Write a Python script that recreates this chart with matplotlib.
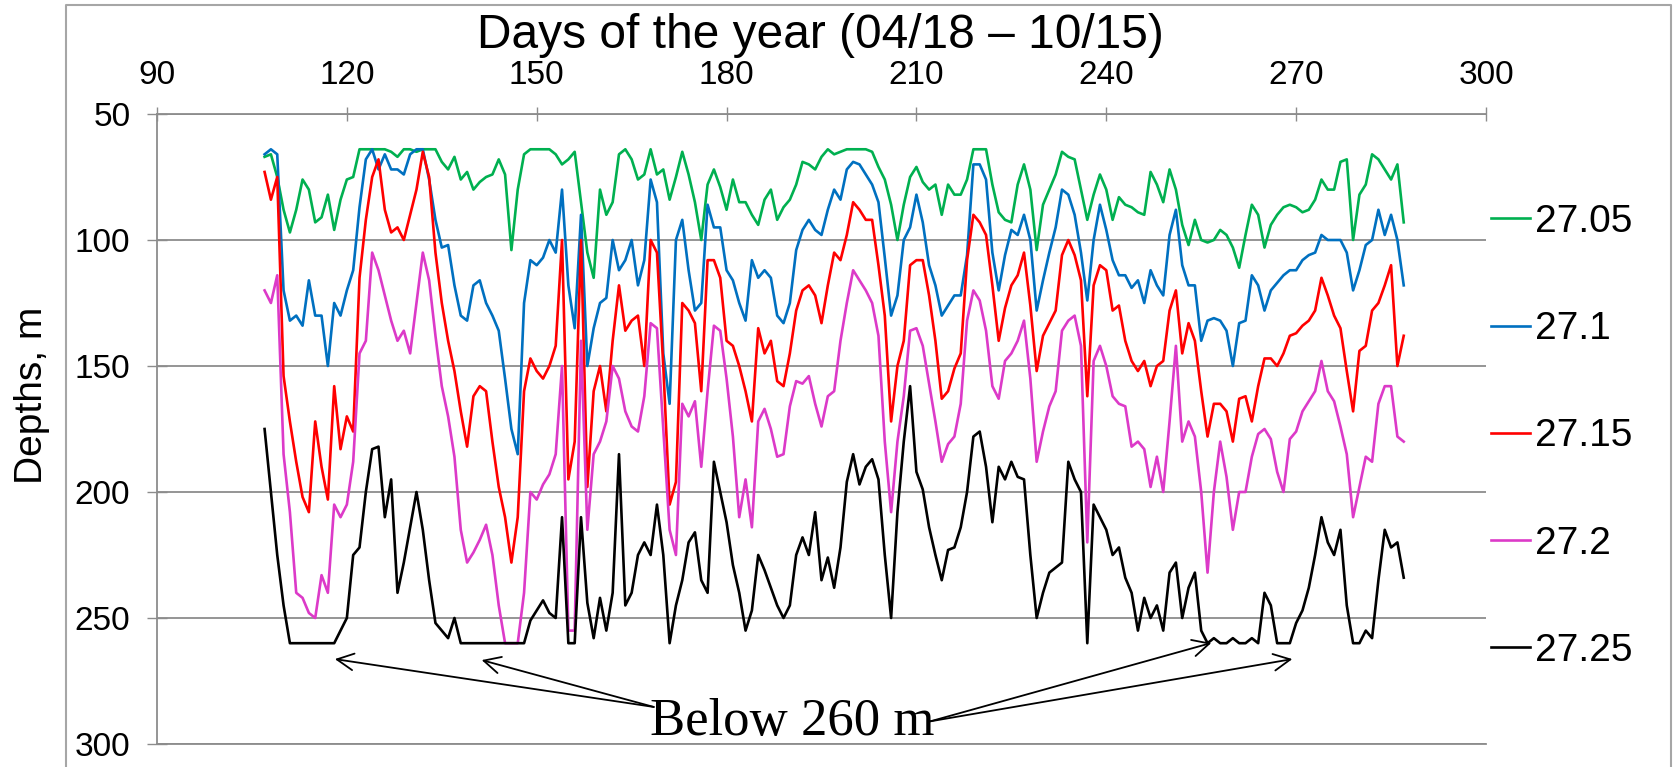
import numpy as np
import matplotlib
matplotlib.use('Agg')
import matplotlib.pyplot as plt
from matplotlib.lines import Line2D

plt.rcParams['font.family'] = ['Liberation Sans', 'DejaVu Sans']

# day of year, 04/18 - 10/15
days = np.arange(107, 288)

# depth (m) of each isopycnal
d2705 = [67, 66, 75, 88, 97, 88, 76, 80, 93, 91,
         82, 96, 84, 76, 75, 64, 64, 64, 64, 64,
         65, 67, 64, 64, 65, 64, 64, 64, 69, 72,
         67, 76, 73, 80, 77, 75, 74, 68, 74, 104,
         80, 66, 64, 64, 64, 64, 66, 70, 68, 65,
         85, 105, 115, 80, 90, 85, 66, 64, 68, 76,
         74, 64, 74, 72, 84, 75, 65, 74, 85, 100,
         78, 72, 79, 88, 76, 85, 85, 90, 94, 84,
         80, 92, 87, 84, 78, 69, 70, 72, 67, 64,
         66, 65, 64, 64, 64, 64, 65, 71, 76, 86,
         100, 86, 75, 71, 77, 80, 78, 90, 78, 82,
         82, 76, 64, 64, 64, 78, 89, 92, 93, 78,
         70, 80, 104, 86, 80, 74, 65, 67, 68, 80,
         92, 82, 74, 80, 92, 83, 86, 87, 89, 90,
         73, 78, 85, 72, 80, 94, 102, 92, 100, 101,
         100, 96, 98, 103, 111, 98, 86, 90, 103, 94,
         90, 87, 86, 87, 89, 88, 84, 76, 80, 80,
         69, 68, 100, 82, 78, 66, 68, 72, 76, 70,
         93]

d271 = [66, 64, 66, 120, 132, 130, 134, 116, 130, 130,
        150, 125, 130, 120, 112, 87, 68, 64, 72, 66,
        72, 72, 74, 66, 64, 64, 76, 92, 103, 102,
        118, 130, 132, 118, 116, 125, 130, 136, 155, 175,
        185, 125, 108, 110, 107, 100, 105, 80, 118, 135,
        90, 150, 135, 125, 123, 100, 112, 108, 100, 118,
        108, 76, 85, 145, 165, 100, 92, 112, 128, 125,
        86, 95, 95, 112, 116, 125, 132, 108, 115, 112,
        115, 130, 133, 125, 104, 96, 92, 96, 98, 88,
        80, 84, 72, 69, 70, 74, 78, 85, 107, 130,
        122, 100, 95, 82, 93, 110, 118, 130, 126, 122,
        122, 106, 70, 70, 76, 105, 120, 106, 96, 98,
        90, 100, 128, 116, 105, 95, 80, 82, 90, 105,
        124, 100, 86, 96, 108, 114, 114, 119, 116, 125,
        112, 118, 122, 98, 88, 110, 118, 118, 140, 132,
        131, 132, 136, 150, 133, 132, 114, 118, 128, 120,
        117, 114, 112, 112, 108, 106, 105, 98, 100, 100,
        100, 105, 120, 112, 102, 100, 88, 98, 90, 100,
        118]

d2715 = [73, 84, 75, 154, 172, 188, 202, 208, 172, 190,
         203, 158, 183, 170, 176, 115, 92, 75, 68, 88,
         97, 95, 100, 90, 80, 65, 75, 105, 125, 140,
         152, 168, 182, 162, 158, 160, 180, 198, 210, 228,
         210, 160, 147, 152, 155, 150, 142, 100, 195, 180,
         100, 198, 160, 150, 168, 140, 118, 136, 132, 130,
         150, 100, 105, 150, 205, 196, 125, 128, 133, 160,
         108, 108, 115, 140, 142, 150, 160, 172, 135, 145,
         140, 156, 158, 145, 128, 120, 118, 122, 133, 118,
         105, 108, 98, 85, 88, 92, 92, 110, 130, 172,
         150, 140, 110, 108, 108, 122, 140, 163, 160, 151,
         145, 108, 90, 93, 98, 118, 140, 127, 118, 114,
         105, 126, 152, 138, 133, 128, 106, 100, 106, 116,
         162, 118, 110, 112, 128, 126, 140, 148, 152, 148,
         158, 150, 148, 128, 120, 145, 133, 140, 160, 178,
         165, 165, 168, 180, 163, 162, 172, 158, 147, 147,
         150, 145, 138, 137, 134, 132, 128, 115, 122, 130,
         135, 152, 168, 144, 142, 128, 125, 118, 110, 150,
         138]

d272 = [120, 125, 114, 185, 208, 240, 242, 248, 250, 233,
        240, 205, 210, 205, 188, 145, 140, 105, 112, 122,
        132, 140, 136, 145, 125, 105, 116, 138, 158, 170,
        186, 215, 228, 224, 219, 213, 225, 245, 260, 260,
        260, 240, 200, 203, 197, 193, 185, 150, 255, 255,
        140, 215, 185, 180, 172, 150, 155, 168, 174, 176,
        162, 133, 135, 175, 215, 225, 165, 170, 164, 190,
        160, 134, 136, 155, 178, 210, 195, 214, 172, 167,
        175, 186, 185, 166, 156, 157, 154, 165, 174, 162,
        160, 140, 125, 112, 116, 120, 125, 138, 180, 208,
        180, 162, 136, 135, 142, 157, 172, 188, 181, 178,
        165, 132, 120, 124, 136, 158, 163, 148, 145, 140,
        132, 155, 188, 176, 166, 160, 136, 132, 130, 142,
        220, 148, 142, 150, 162, 165, 166, 182, 180, 183,
        198, 186, 200, 172, 142, 180, 172, 178, 200, 232,
        200, 180, 194, 215, 200, 200, 186, 177, 175, 179,
        192, 200, 179, 176, 168, 164, 160, 148, 160, 164,
        174, 185, 210, 198, 186, 188, 165, 158, 158, 178,
        180]

d2725 = [175, 200, 225, 245, 260, 260, 260, 260, 260, 260,
         260, 260, 255, 250, 225, 222, 200, 183, 182, 210,
         195, 240, 228, 214, 200, 215, 235, 252, 255, 258,
         250, 260, 260, 260, 260, 260, 260, 260, 260, 260,
         260, 260, 251, 247, 243, 248, 250, 210, 260, 260,
         210, 244, 258, 242, 255, 240, 185, 245, 240, 225,
         220, 225, 205, 225, 260, 245, 235, 220, 216, 235,
         240, 188, 200, 212, 229, 240, 255, 247, 225, 231,
         238, 245, 250, 245, 225, 218, 225, 208, 235, 226,
         238, 222, 196, 185, 197, 190, 187, 195, 225, 250,
         208, 180, 158, 192, 199, 214, 225, 235, 223, 222,
         214, 200, 178, 176, 190, 212, 190, 195, 188, 194,
         195, 225, 250, 240, 232, 230, 228, 188, 195, 200,
         260, 205, 210, 215, 225, 222, 234, 240, 255, 242,
         250, 245, 255, 232, 228, 250, 238, 232, 255, 260,
         258, 260, 260, 258, 260, 260, 258, 260, 240, 245,
         260, 260, 260, 252, 247, 238, 225, 210, 220, 225,
         215, 245, 260, 260, 255, 258, 235, 215, 222, 220,
         234]

labels = ['27.05', '27.1', '27.15', '27.2', '27.25']
series = [d2705, d271, d2715, d272, d2725]
colors = ['#00B050', '#0070C0', '#FF0000', '#DC3AC8', '#000000']

# "Below 260 m" arrows: (day, depth) of each tip
tips = [(118.1, 266.3), (141.3, 266.7), (256.6, 259.9), (269.4, 266.3)]

W, H = 1673, 767
fig = plt.figure(figsize=(W / 100, H / 100), dpi=100)
ax = fig.add_axes([157 / W, 1 - 744 / H, (1486 - 157) / W, (744 - 114) / H])

for y, c, lab in zip(series, colors, labels):
    ax.plot(days, y, color=c, lw=1.9, label=lab)

ax.set_xlim(90, 300)
ax.set_ylim(300, 50)
ax.set_xticks(range(90, 301, 30))
ax.set_yticks(range(50, 301, 50))
ax.xaxis.tick_top()

grey = '#8C8C8C'
ax.yaxis.grid(True, color=grey, lw=1.3)
ax.set_axisbelow(True)
for s in ['top', 'left', 'bottom']:
    ax.spines[s].set_color(grey)
    ax.spines[s].set_linewidth(1.3)
ax.spines['right'].set_visible(False)
ax.tick_params(axis='x', direction='inout', length=9.4, width=1, color=grey,
               pad=12, labelsize=24)
ax.tick_params(axis='y', direction='inout', length=14.4, width=1, color=grey,
               pad=12, labelsize=24)

fig.text(820 / W, 1 - 48 / H, 'Days of the year (04/18 \u2013 10/15)',
         ha='center', va='baseline', fontsize=34.5)
fig.text(14 / W, 1 - 395 / H, 'Depths, m', rotation=90, ha='left',
         va='center', fontsize=28)

ax.legend(loc='upper left', bbox_to_anchor=(1491 / W, 1 - 204 / H),
          bbox_transform=fig.transFigure, frameon=False, fontsize=28,
          handlelength=1.0, handletextpad=0.12, labelspacing=1.83,
          borderpad=0, borderaxespad=0)

# annotation
for i, (tx, ty) in enumerate(tips):
    tail = (168.5, 285.3) if i < 2 else (212.2, 291.0)
    ax.annotate('', xy=(tx, ty), xytext=tail, annotation_clip=False,
                arrowprops=dict(arrowstyle='->', lw=1.3, color='black',
                                mutation_scale=30, shrinkA=0, shrinkB=0))
ax.text(190.3, 296.6, 'Below 260 m', ha='center', va='baseline',
        fontsize=38, family=['Liberation Serif', 'DejaVu Serif'])

# outer chart frame
fig.add_artist(Line2D([66 / W, 66 / W, 1671 / W, 1671 / W],
                      [0, 1 - 5 / H, 1 - 5 / H, 0],
                      transform=fig.transFigure, color='#A6A6A6', lw=1.5))

fig.savefig('out.png', dpi=100)
